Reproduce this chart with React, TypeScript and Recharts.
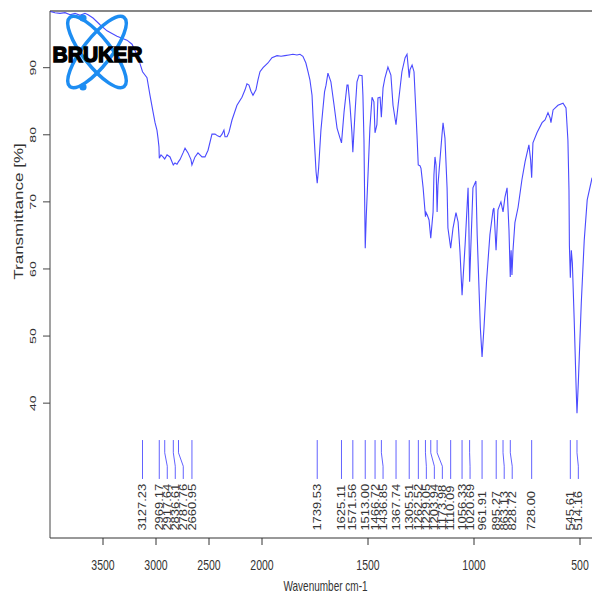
import React from 'react';
import { LineChart, Line, XAxis, YAxis, ReferenceLine, ReferenceDot } from 'recharts';

// IR spectrum, wavenumber in cm-1
const WAVENUMBERS = [
  4000, 3953, 3906, 3858, 3811, 3764, 3717, 3670, 3641, 3594,
  3528, 3462, 3368, 3274, 3226, 3179, 3151, 3127, 3085, 3057,
  3028, 3009, 2991, 2981, 2972, 2969, 2953, 2934, 2918, 2896,
  2868, 2837, 2821, 2802, 2788, 2774, 2745, 2726, 2698, 2670,
  2661, 2632, 2604, 2566, 2538, 2509, 2472, 2443, 2415, 2396,
  2377, 2359, 2349, 2330, 2311, 2283, 2236, 2189, 2160, 2142,
  2123, 2104, 2085, 2057, 2038, 2019, 1995, 1972, 1953, 1929,
  1910, 1892, 1873, 1854, 1835, 1821, 1807, 1793, 1783, 1774,
  1764, 1759, 1752, 1745, 1739.5, 1733, 1722, 1714, 1705, 1698,
  1689, 1675, 1660, 1646, 1632, 1625, 1613, 1599, 1594, 1585,
  1576, 1571.5, 1561, 1552, 1542, 1528, 1524, 1519, 1516, 1513,
  1508, 1499, 1491, 1481, 1472, 1467, 1458, 1453, 1443, 1437,
  1429, 1420, 1406, 1392, 1382, 1368, 1358, 1340, 1325, 1316,
  1305.5, 1302, 1292, 1283, 1274, 1269, 1263, 1255, 1250, 1240,
  1229, 1226, 1220, 1212, 1204, 1193, 1189, 1184, 1179, 1174,
  1170, 1165, 1151, 1146, 1137, 1127, 1123, 1110, 1099, 1085,
  1075, 1066, 1056.3, 1042, 1028, 1024, 1020.7, 1009, 1005, 991,
  985, 970, 962, 953, 941, 925, 910, 906, 896, 887,
  873, 863, 854, 844, 835, 829, 825, 821, 816, 807,
  792, 774, 759, 741, 733, 728, 722, 703, 679, 665,
  651, 641, 637, 627, 604, 580, 566, 557, 552, 550,
  545.6, 541, 536, 527, 518, 514.2, 508, 494, 480, 466,
  443,
];

// Transmittance in %
const TRANSMITTANCE = [
  98.4, 98.2, 98.1, 98.2, 97.9, 98.1, 97.8, 98.1, 97.9, 97.4,
  96.4, 95.5, 94.7, 94.1, 93.5, 91.9, 90.6, 89.4, 88.5, 85.9,
  83.4, 81.8, 80.7, 79.5, 78.2, 76.5, 77.0, 76.7, 76.4, 77.0,
  76.7, 75.5, 75.8, 75.6, 76.0, 76.3, 77.3, 78.0, 77.3, 76.3,
  75.5, 76.7, 77.3, 76.7, 76.7, 77.7, 80.1, 80.1, 79.8, 79.7,
  80.1, 80.7, 79.7, 79.7, 80.4, 82.2, 84.4, 85.6, 86.7, 87.6,
  87.4, 86.5, 85.9, 86.7, 88.2, 89.4, 90.0, 90.7, 91.5, 91.8,
  91.7, 91.8, 91.9, 92.0, 91.9, 92.0, 91.7, 90.7, 89.4, 88.2,
  85.9, 82.5, 78.5, 74.5, 72.8, 75.0, 80.7, 83.4, 86.4, 87.4,
  89.2, 87.9, 84.4, 81.0, 79.5, 78.8, 83.4, 87.4, 87.4, 84.4,
  80.4, 77.4, 83.4, 87.9, 88.9, 88.8, 85.9, 79.2, 71.0, 63.1,
  68.0, 74.8, 81.0, 85.6, 84.9, 80.3, 81.5, 85.5, 85.6, 82.6,
  87.0, 88.5, 90.1, 88.9, 84.4, 81.5, 84.4, 89.4, 91.5, 92.0,
  88.5, 89.7, 90.4, 89.4, 83.4, 80.0, 75.5, 75.4, 75.0, 72.1,
  67.8, 68.4, 68.0, 67.3, 64.6, 68.5, 74.0, 76.7, 75.5, 68.5,
  72.5, 74.5, 80.0, 81.8, 79.5, 72.1, 66.1, 63.1, 66.1, 68.4,
  67.0, 62.5, 56.1, 63.6, 72.1, 66.1, 58.1, 68.5, 72.1, 73.1,
  65.1, 51.2, 46.9, 51.2, 58.1, 65.1, 68.8, 69.1, 62.8, 68.8,
  70.0, 68.5, 70.7, 72.1, 65.8, 58.8, 62.8, 59.1, 62.8, 66.9,
  69.2, 73.3, 76.0, 78.5, 76.3, 73.6, 78.8, 80.3, 81.8, 82.2,
  83.3, 82.5, 81.8, 83.7, 84.4, 84.7, 84.0, 79.2, 71.8, 63.5,
  58.7, 62.8, 60.9, 52.0, 42.0, 38.5, 43.0, 54.9, 64.3, 70.3,
  73.6,
];

// Picked peaks (cm-1)
const PEAKS = [
  3127.23, 2969.17, 2917.64, 2836.61, 2787.76, 2660.95, 1739.53, 1625.11,
  1571.56, 1513.0, 1466.72, 1436.85, 1367.74, 1305.51, 1262.52, 1229.05,
  1203.94, 1173.98, 1110.09, 1056.33, 1020.69, 961.91, 895.27, 863.13,
  828.72, 728.0, 545.61, 514.16,
];

const X_TICKS = [3500, 3000, 2500, 2000, 1500, 1000, 500];
const Y_TICKS = [40, 50, 60, 70, 80, 90];

// Axis extent
const W_MAX = 4000;
const W_MIN = 443.4;
const T_MIN = 19.9;
const T_MAX = 98.45;

// Layout
const CHART_W = 592;
const CHART_H = 595;
const Y_AXIS_W = 50;
const X_AXIS_H = 57;
const TOP = 11;
const PLOT_W = CHART_W - Y_AXIS_W;

// Above 2000 cm-1 the axis is compressed by a factor of two
const BREAK = 2000;
const toAxis = (w: number) => (w > BREAK ? BREAK + (w - BREAK) / 2 : w);
const fromAxis = (p: number) => (p > BREAK ? BREAK + (p - BREAK) * 2 : p);

const X_LO = toAxis(W_MIN);
const X_HI = toAxis(W_MAX);

// Peak marker geometry (transmittance units)
const MARK_TOP = 34.5;
const MARK_KNEE_A = 32.6;
const MARK_KNEE_B = 30.6;
const MARK_BOTTOM = 28.7;
const MARK_TEXT = 21.0;
const LABEL_GAP_PX = 8;

const FONT = '"Liberation Sans", Arial, Helvetica, sans-serif';
const TEXT_COLOR = '#333';
const SPECTRUM_COLOR = '#4a4aff';
const MARK_COLOR = '#6262ff';

const data = WAVENUMBERS.map((w, i) => ({ pos: toAxis(w), t: TRANSMITTANCE[i] }));

// Spread peak labels so neighbours keep a minimum gap
const gapUnits = (LABEL_GAP_PX * (X_HI - X_LO)) / PLOT_W;
const peakMarks = (() => {
  const sorted = [...PEAKS].sort((a, b) => b - a);
  const out: { peak: number; pos: number; labelPos: number }[] = [];
  sorted.forEach((p, i) => {
    const pos = toAxis(p);
    let labelPos = pos;
    if (i > 0) labelPos = Math.min(pos, out[i - 1].labelPos - gapUnits);
    out.push({ peak: p, pos, labelPos });
  });
  return out;
})();

const XTick = (props: any) => {
  const { x, y, payload } = props;
  return (
    <text
      transform={`translate(${x},${y + 23}) scale(1,1.4)`}
      textAnchor="middle"
      fontSize={10.5}
      fontFamily={FONT}
      fill={TEXT_COLOR}
    >
      {Math.round(fromAxis(payload.value))}
    </text>
  );
};

const YTick = (props: any) => {
  const { x, y, payload } = props;
  return (
    <text
      transform={`translate(${x - 5},${y}) rotate(-90) scale(1.5,1)`}
      textAnchor="middle"
      fontSize={9.5}
      fontFamily={FONT}
      fill={TEXT_COLOR}
    >
      {payload.value}
    </text>
  );
};

const YTitle = (props: any) => {
  const vb = props.viewBox || { x: 0, y: TOP, width: Y_AXIS_W, height: 527 };
  return (
    <text
      transform={`translate(${vb.x + 23},${vb.y + 200.5}) rotate(-90) scale(1.42,1)`}
      textAnchor="middle"
      fontSize={12}
      fontFamily={FONT}
      fill={TEXT_COLOR}
    >
      Transmittance [%]
    </text>
  );
};

const XTitle = (props: any) => {
  const vb = props.viewBox || { x: Y_AXIS_W, y: 538, width: PLOT_W, height: X_AXIS_H };
  return (
    <text
      transform={`translate(${vb.x + vb.width / 2 + 4.5},${vb.y + 52.5}) scale(1,1.4)`}
      textAnchor="middle"
      fontSize={10}
      fontFamily={FONT}
      fill={TEXT_COLOR}
    >
      Wavenumber cm-1
    </text>
  );
};

const Logo = () => (
  <svg
    width={160}
    height={100}
    style={{ position: 'absolute', left: 0, top: 0, pointerEvents: 'none' }}
  >
    <g transform="translate(97,52)">
      <ellipse rx={14} ry={44} transform="rotate(38)" fill="none" stroke="#1d8df2" strokeWidth={3.5} />
      <ellipse rx={14} ry={44} transform="rotate(-38)" fill="none" stroke="#1d8df2" strokeWidth={3.5} />
    </g>
    <circle cx={83} cy={18} r={3.6} fill="#1d8df2" />
    <circle cx={83} cy={87} r={3.6} fill="#1d8df2" />
    <text
      x={52.5}
      y={61.5}
      fontSize={22}
      fontWeight={900}
      fontFamily={FONT}
      textLength={90}
      lengthAdjust="spacingAndGlyphs"
      fill="#000"
      stroke="#000"
      strokeWidth={1.4}
    >
      BRUKER
    </text>
  </svg>
);

export default function App() {
  return (
    <div
      style={{
        position: 'absolute',
        left: 0,
        top: 0,
        width: CHART_W,
        height: CHART_H,
        background: '#fff',
        fontFamily: FONT,
      }}
    >
      <LineChart
        width={CHART_W}
        height={CHART_H}
        data={data}
        margin={{ top: TOP, right: 0, bottom: 0, left: 0 }}
      >
        <XAxis
          dataKey="pos"
          type="number"
          domain={[X_LO, X_HI]}
          reversed
          allowDataOverflow
          ticks={X_TICKS.map(toAxis)}
          height={X_AXIS_H}
          tickSize={7}
          tick={<XTick />}
          axisLine={{ stroke: '#333' }}
          tickLine={{ stroke: '#333' }}
          label={{ content: (p: any) => <XTitle {...p} /> }}
        />
        <YAxis
          type="number"
          domain={[T_MIN, T_MAX]}
          allowDataOverflow
          ticks={Y_TICKS}
          width={Y_AXIS_W}
          tickSize={7}
          tick={<YTick />}
          axisLine={{ stroke: '#444' }}
          tickLine={{ stroke: '#444' }}
          label={{ content: (p: any) => <YTitle {...p} /> }}
        />
        <ReferenceLine y={T_MAX} stroke="#111" strokeWidth={1.2} ifOverflow="visible" />
        <Line
          dataKey="t"
          type="linear"
          dot={false}
          stroke={SPECTRUM_COLOR}
          strokeWidth={1.1}
          isAnimationActive={false}
        />
        {peakMarks.map((m) =>
          m.labelPos === m.pos ? (
            <ReferenceLine
              key={`s${m.peak}`}
              segment={[
                { x: m.pos, y: MARK_TOP },
                { x: m.pos, y: MARK_BOTTOM },
              ]}
              stroke={MARK_COLOR}
              strokeWidth={1}
              ifOverflow="visible"
            />
          ) : (
            [
              <ReferenceLine
                key={`a${m.peak}`}
                segment={[
                  { x: m.pos, y: MARK_TOP },
                  { x: m.pos, y: MARK_KNEE_A },
                ]}
                stroke={MARK_COLOR}
                strokeWidth={1}
                ifOverflow="visible"
              />,
              <ReferenceLine
                key={`b${m.peak}`}
                segment={[
                  { x: m.pos, y: MARK_KNEE_A },
                  { x: m.labelPos, y: MARK_KNEE_B },
                ]}
                stroke={MARK_COLOR}
                strokeWidth={1}
                ifOverflow="visible"
              />,
              <ReferenceLine
                key={`c${m.peak}`}
                segment={[
                  { x: m.labelPos, y: MARK_KNEE_B },
                  { x: m.labelPos, y: MARK_BOTTOM },
                ]}
                stroke={MARK_COLOR}
                strokeWidth={1}
                ifOverflow="visible"
              />,
            ]
          )
        )}
        {peakMarks.map((m) => (
          <ReferenceDot
            key={`t${m.peak}`}
            x={m.labelPos}
            y={MARK_TEXT}
            r={0}
            ifOverflow="visible"
            shape={(p: any) => (
              <text
                transform={`translate(${p.cx + 3.6},${p.cy}) rotate(-90) scale(1.3,1)`}
                textAnchor="start"
                fontSize={10}
                fontFamily={FONT}
                fill={TEXT_COLOR}
              >
                {m.peak.toFixed(2)}
              </text>
            )}
          />
        ))}
      </LineChart>
      <Logo />
    </div>
  );
}
